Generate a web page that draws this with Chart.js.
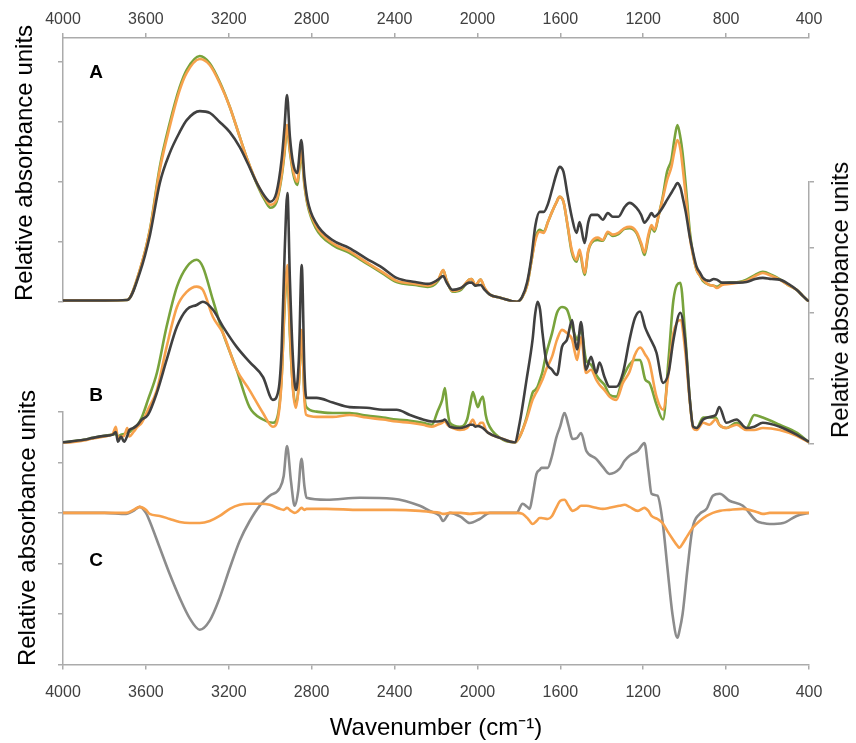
<!DOCTYPE html>
<html>
<head>
<meta charset="utf-8">
<script src="https://cdn.jsdelivr.net/npm/chart.js@4/dist/chart.umd.min.js"></script>
<style>
  html, body { margin: 0; padding: 0; background: #fff; }
  #wrap { position: relative; width: 856px; height: 743px; font-family: "Liberation Sans", Arial, sans-serif; }
  canvas { display: block; }
  .lbl { position: absolute; transform: translate(-50%, -50%); font-weight: bold; font-size: 19px; color: #000; }
  .ylab { position: absolute; transform: translate(-50%, -50%) rotate(-90deg); white-space: nowrap; font-size: 24px; color: #000; }
</style>
</head>
<body>
<div id="wrap">
  <canvas id="c" width="856" height="743"></canvas>
  <div class="lbl" style="left:96px;top:72px;">A</div>
  <div class="lbl" style="left:96px;top:395px;">B</div>
  <div class="lbl" style="left:96px;top:560px;">C</div>
  <div class="ylab" style="left:24px;top:163px;">Relative absorbance units</div>
  <div class="ylab" style="left:840px;top:300px;">Relative absorbance units</div>
  <div class="ylab" style="left:27px;top:528px;">Relative absorbance units</div>
</div>
<script>
// ---------- Panel A (top, left axis) ----------
const wnA = [4000,3900,3800,3690,3630,3580,3533,3485,3437,3403,3340,3292,3244,3195,3147,3110,3060,3020,3000,2970,2945,2931,2919,2905,2890,2870,2850,2835,2820,2780,2700,2620,2540,2460,2390,2300,2240,2190,2165,2150,2120,2080,2040,2028,2010,1985,1965,1940,1890,1810,1785,1760,1740,1720,1700,1680,1660,1640,1620,1604,1585,1565,1545,1522,1507,1483,1465,1450,1420,1395,1371,1347,1320,1290,1266,1233,1210,1194,1175,1160,1146,1125,1107,1085,1064,1050,1035,1020,1010,995,975,960,942,925,912,880,860,845,820,784,740,702,660,623,580,542,500,460,430,400];
const aDark = [0.02,0.02,0.02,0.03,0.48,1.12,1.98,2.48,2.83,3.03,3.18,3.15,3.00,2.83,2.58,2.32,1.95,1.73,1.67,1.82,2.37,2.92,3.45,2.75,2.32,2.15,2.70,2.08,1.70,1.32,1.03,0.90,0.73,0.57,0.40,0.33,0.30,0.37,0.43,0.33,0.20,0.23,0.32,0.32,0.27,0.28,0.20,0.12,0.07,0,0.08,0.33,0.73,1.28,1.50,1.50,1.63,1.87,2.12,2.25,2.17,1.78,1.42,1.15,1.33,0.98,1.33,1.45,1.45,1.37,1.48,1.42,1.42,1.58,1.65,1.57,1.45,1.32,1.40,1.48,1.42,1.48,1.57,1.70,1.82,1.90,1.98,1.90,1.75,1.50,1.08,0.83,0.58,0.48,0.40,0.35,0.38,0.37,0.32,0.32,0.32,0.33,0.38,0.40,0.38,0.37,0.30,0.20,0.10,0];
const aOrange = [0.02,0.02,0.02,0.03,0.52,1.20,2.20,2.92,3.53,3.82,4.05,3.95,3.65,3.25,2.75,2.37,1.95,1.70,1.62,1.70,2.12,2.53,2.95,2.53,2.20,2.00,2.53,1.98,1.65,1.27,0.98,0.85,0.67,0.50,0.35,0.30,0.27,0.37,0.53,0.37,0.18,0.22,0.37,0.38,0.28,0.37,0.23,0.12,0.07,0,0.07,0.28,0.67,1.03,1.17,1.15,1.33,1.50,1.65,1.75,1.67,1.28,0.87,0.70,0.87,0.48,0.87,1.00,1.07,1.03,1.17,1.12,1.15,1.23,1.25,1.17,0.98,0.82,1.12,1.28,1.20,1.45,1.70,2.03,2.25,2.50,2.70,2.53,2.25,1.78,1.08,0.78,0.53,0.43,0.37,0.28,0.27,0.23,0.28,0.30,0.32,0.35,0.43,0.48,0.43,0.37,0.28,0.20,0.10,0];
const aGreen = [0.02,0.02,0.02,0.03,0.52,1.22,2.25,2.98,3.58,3.87,4.10,3.98,3.67,3.25,2.75,2.37,1.93,1.66,1.57,1.66,2.08,2.48,2.90,2.50,2.15,1.95,2.45,1.95,1.62,1.23,0.95,0.82,0.65,0.48,0.33,0.28,0.25,0.35,0.53,0.37,0.17,0.20,0.37,0.38,0.27,0.37,0.22,0.12,0.07,0,0.07,0.28,0.67,1.07,1.20,1.17,1.33,1.50,1.65,1.75,1.67,1.27,0.83,0.67,0.83,0.45,0.85,0.98,1.03,1.02,1.15,1.10,1.13,1.22,1.23,1.15,0.95,0.78,1.08,1.25,1.17,1.45,1.73,2.17,2.37,2.70,2.95,2.73,2.48,1.95,1.17,0.80,0.53,0.43,0.35,0.28,0.27,0.25,0.30,0.32,0.33,0.37,0.45,0.50,0.45,0.38,0.28,0.20,0.10,0];

// ---------- Panel B (middle, right axis) ----------
const wnB = [4000,3900,3855,3800,3760,3745,3735,3720,3705,3690,3680,3660,3640,3620,3590,3547,3500,3450,3403,3355,3325,3277,3228,3162,3100,3035,2987,2960,2945,2930,2917,2905,2890,2876,2862,2848,2835,2826,2776,2698,2617,2535,2456,2390,2326,2263,2220,2193,2170,2157,2145,2133,2085,2050,2035,2022,2010,1998,1985,1974,1960,1950,1892,1820,1796,1763,1734,1722,1710,1698,1686,1669,1640,1616,1592,1568,1543,1530,1519,1500,1476,1452,1427,1411,1387,1363,1330,1298,1266,1240,1215,1190,1170,1136,1104,1078,1054,1021,998,975,959,942,911,880,850,833,799,750,702,664,623,542,460,400];
const bDark = [0.02,0.06,0.09,0.12,0.14,0.18,0.03,0.11,0.03,0.12,0.21,0.24,0.29,0.37,0.44,0.78,1.28,1.79,2.05,2.12,2.17,2.05,1.79,1.48,1.25,1.02,0.67,0.82,1.44,2.96,3.83,2.50,1.28,0.82,1.28,2.73,1.13,0.70,0.70,0.63,0.56,0.55,0.52,0.52,0.44,0.37,0.34,0.34,0.35,0.37,0.32,0.26,0.24,0.27,0.29,0.29,0.26,0.27,0.26,0.24,0.20,0.17,0.09,0.02,0.32,0.98,1.59,1.97,2.17,2.05,1.69,1.28,1.13,1.05,1.48,1.59,1.89,1.59,1.44,1.86,1.13,1.33,1.08,1.24,1.02,0.87,0.87,1.08,1.59,1.92,2.02,1.77,1.63,1.39,0.93,1.08,1.59,2.00,1.59,0.67,0.26,0.24,0.37,0.41,0.44,0.56,0.32,0.37,0.24,0.26,0.32,0.26,0.14,0.03];
const bOrange = [0,0.05,0.08,0.11,0.15,0.26,0.09,0.11,0.12,0.24,0.11,0.18,0.26,0.32,0.52,0.82,1.48,2.09,2.32,2.40,2.35,1.94,1.69,1.13,0.82,0.47,0.26,0.44,0.98,2.20,2.73,1.74,0.82,0.55,0.90,1.74,0.67,0.44,0.41,0.41,0.44,0.40,0.37,0.34,0.32,0.29,0.26,0.29,0.32,0.35,0.29,0.26,0.21,0.24,0.31,0.37,0.29,0.27,0.32,0.32,0.21,0.17,0.09,0.02,0.11,0.37,0.67,0.75,0.82,0.90,0.98,1.13,1.33,1.59,1.74,1.69,1.59,1.40,1.28,1.63,1.08,1.13,0.98,0.90,0.82,0.72,0.67,0.93,1.10,1.36,1.47,1.36,1.24,0.72,0.52,1.08,1.69,1.89,1.44,0.64,0.24,0.21,0.32,0.29,0.37,0.29,0.24,0.29,0.21,0.21,0.24,0.21,0.12,0.02];
const bGreen = [0.02,0.06,0.09,0.12,0.14,0.15,0.11,0.14,0.15,0.18,0.18,0.24,0.29,0.40,0.67,1.08,1.79,2.40,2.70,2.81,2.70,2.20,1.69,1.13,0.56,0.37,0.32,0.49,1.01,2.12,2.66,1.66,0.85,0.60,0.90,1.66,0.75,0.56,0.49,0.47,0.47,0.43,0.40,0.37,0.35,0.32,0.29,0.49,0.67,0.85,0.52,0.32,0.26,0.37,0.60,0.79,0.67,0.56,0.67,0.72,0.44,0.32,0.09,0.02,0.11,0.40,0.78,0.82,0.87,0.98,1.10,1.36,1.69,2.00,2.09,2.05,1.79,1.66,1.59,1.74,1.28,1.21,1.05,0.98,0.90,0.75,0.72,1.01,1.21,1.28,1.28,0.98,0.93,0.60,0.37,1.28,2.20,2.46,1.69,0.67,0.26,0.24,0.40,0.40,0.40,0.29,0.24,0.32,0.24,0.44,0.40,0.29,0.17,0.02];

// ---------- Panel C (bottom, left axis, difference spectra) ----------
const wnC = [4000,3900,3800,3695,3660,3630,3600,3582,3533,3485,3437,3389,3340,3292,3244,3195,3147,3099,3051,3002,2954,2935,2919,2900,2882,2865,2849,2835,2825,2728,2568,2408,2278,2230,2182,2166,2133,2080,2037,1989,1940,1870,1811,1782,1760,1748,1734,1715,1700,1691,1661,1640,1620,1600,1580,1560,1541,1520,1500,1475,1427,1395,1363,1315,1290,1266,1226,1194,1175,1160,1131,1107,1083,1059,1035,1025,1010,986,962,928,894,864,831,784,719,653,623,589,525,460,400];
const cGray = [0,0,0,-0.02,0.04,0.12,0,-0.16,-0.69,-1.21,-1.68,-2.08,-2.31,-2.13,-1.68,-1.09,-0.55,-0.16,0.14,0.34,0.49,0.73,1.32,0.63,0.14,0.43,1.07,0.53,0.30,0.26,0.30,0.28,0.14,0.04,-0.06,-0.16,0,-0.08,-0.20,-0.12,0,0,0,0.18,0.12,0.08,0.34,0.77,0.85,0.89,0.89,1.13,1.48,1.72,1.98,1.72,1.46,1.48,1.58,1.23,1.07,0.91,0.77,0.87,1.03,1.13,1.23,1.38,0.83,0.38,0.34,-0.16,-1.09,-2.00,-2.47,-2.33,-2.00,-1.09,-0.30,-0.02,0.08,0.34,0.38,0.24,0.14,-0.16,-0.20,-0.22,-0.20,-0.06,0];
const cOrange = [0,0,0,0,0.06,0.12,0.06,-0.02,-0.06,-0.12,-0.18,-0.20,-0.20,-0.16,-0.06,0.08,0.16,0.18,0.18,0.16,0.08,0.06,0.10,0.04,0,0.04,0.10,0.06,0.08,0.08,0.06,0.06,0.04,0.02,0,-0.02,0,0,-0.02,0,0,0,0,-0.02,-0.10,-0.16,-0.22,-0.16,-0.10,-0.10,-0.12,-0.06,0.10,0.24,0.26,0.14,0.04,0.08,0.14,0.14,0.10,0.08,0.10,0.14,0.16,0.12,0.04,0.10,0.04,-0.06,-0.12,-0.20,-0.36,-0.51,-0.65,-0.69,-0.61,-0.45,-0.30,-0.16,-0.06,0,0.04,0.06,0.08,0.02,-0.02,0,0,0,0];

// ---------- Axis ticks ----------
const xTickStep = 400;          // 4000, 3600, ... 400
const yTicksA = [0, 4.4];       // axis range A
const yTicksB = [0, 4];         // axis range B
const yTicksC = [-3, 2];        // axis range C

const GREEN = '#78a33c', ORANGE = '#f7a14c', DARK = '#404040', GRAY = '#8c8c8c';
const AXIS = '#ababab', TICKTXT = '#404040';

function pts(xs, ys) { return xs.map((x, i) => ({ x: x, y: ys[i] })); }
Chart.defaults.font.family = '"Liberation Sans", Arial, sans-serif';

function xAxis(pos) {
  const o = {
    type: 'linear', position: pos, reverse: true, min: 400, max: 4000,
    ticks: { stepSize: xTickStep, color: TICKTXT, font: { size: 16, lineHeight: 1 }, padding: pos === 'top' ? 5 : 15,
             maxRotation: 0, autoSkip: false, callback: v => String(v) },
    grid: { drawOnChartArea: false, drawTicks: true, tickLength: 5, color: AXIS, lineWidth: 1.5 },
    border: { display: true, color: AXIS, width: 1.5 }
  };
  if (pos === 'bottom') {
    o.title = { display: true, text: 'Wavenumber (cm\u207B\u00B9)', color: '#000', font: { size: 24, lineHeight: 1.1 }, padding: { top: 0, bottom: 0 } };
  }
  return o;
}
function yAxis(pos, stack, weight, range) {
  return {
    type: 'linear', position: pos, stack: stack, stackWeight: weight,
    min: range[0], max: range[1],
    ticks: { display: false, stepSize: 1, includeBounds: false },
    grid: { drawOnChartArea: false, drawTicks: true, tickLength: 5, color: AXIS, lineWidth: 1.5 },
    border: { display: true, color: AXIS, width: 1.5 }
  };
}
function spacer(pos, stack, weight) {
  return { type: 'linear', position: pos, stack: stack, stackWeight: weight, display: false };
}
const ds = (label, xs, ys, axis, color, order) => ({
  label: label, data: pts(xs, ys), xAxisID: 'x', yAxisID: axis,
  borderColor: color, backgroundColor: color, borderWidth: 2.6, pointRadius: 0,
  cubicInterpolationMode: 'monotone', fill: false, order: order
});

new Chart(document.getElementById('c'), {
  type: 'line',
  data: {
    datasets: [
      ds('A dark', wnA, aDark, 'yA', DARK, 1),
      ds('A orange', wnA, aOrange, 'yA', ORANGE, 2),
      ds('A green', wnA, aGreen, 'yA', GREEN, 3),
      ds('B dark', wnB, bDark, 'yB', DARK, 1),
      ds('B orange', wnB, bOrange, 'yB', ORANGE, 2),
      ds('B green', wnB, bGreen, 'yB', GREEN, 3),
      ds('C orange', wnC, cOrange, 'yC', ORANGE, 1),
      ds('C gray', wnC, cGray, 'yC', GRAY, 2)
    ]
  },
  options: {
    responsive: false, animation: false, devicePixelRatio: 1,
    layout: { padding: { left: 58, right: 42, top: 7, bottom: 1 } },
    plugins: { legend: { display: false }, tooltip: { enabled: false } },
    scales: {
      x: xAxis('bottom'),
      xTop: xAxis('top'),
      yC: yAxis('left', 'L', 253, yTicksC),
      ySpL: spacer('left', 'L', 110),
      yA: yAxis('left', 'L', 264, yTicksA),
      ySpR1: spacer('right', 'R', 144),
      yB: yAxis('right', 'R', 262, yTicksB),
      ySpR2: spacer('right', 'R', 221)
    }
  }
});
</script>
</body>
</html>
